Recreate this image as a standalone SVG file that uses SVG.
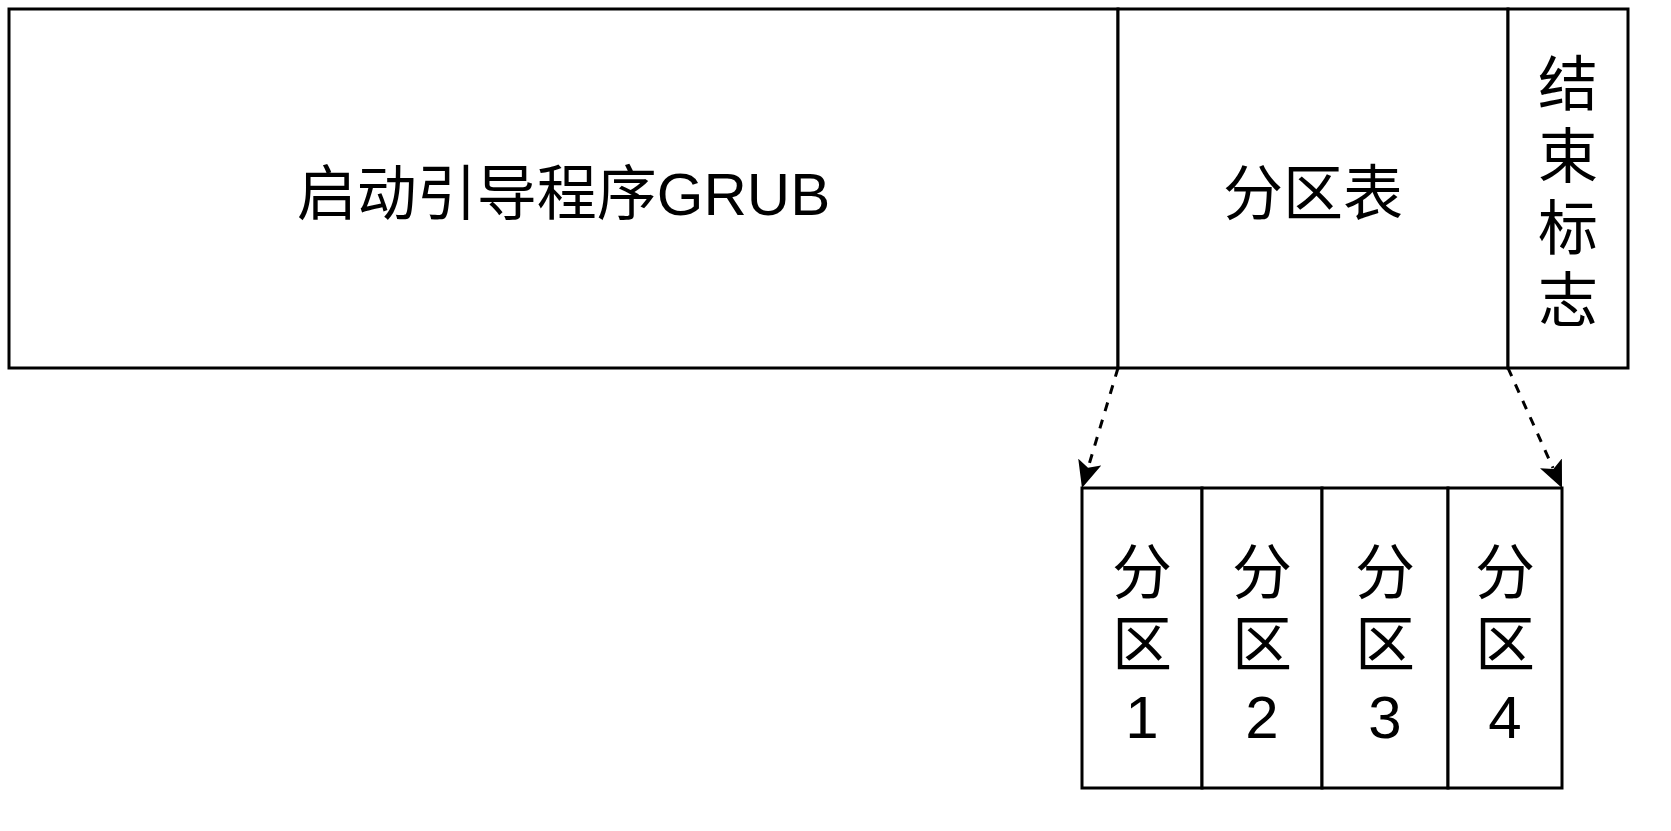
<svg xmlns="http://www.w3.org/2000/svg" width="1671" height="831" viewBox="0 0 1671 831">
<style>
.box{fill:#ffffff;stroke:#000000;stroke-width:3}
.t{font-family:"Liberation Sans","Noto Sans CJK SC",sans-serif;font-size:60px;fill:#000000;text-anchor:middle}
.edge{fill:none;stroke:#000000;stroke-width:3;stroke-dasharray:9 9}
</style>
<defs>
<marker id="arrow" markerUnits="userSpaceOnUse" viewBox="0 0 27 24" refX="5" refY="12" markerWidth="27" markerHeight="24" orient="auto">
<path d="M27,12 L0,0 L6,12 L0,24 Z" fill="#000000"/>
</marker>
</defs>
<rect width="1671" height="831" fill="#ffffff"/>
<g id="grub">
<rect class="box" x="9" y="9" width="1109" height="359"/>
<text class="t" x="563.5" y="215">启动引导程序GRUB</text>
</g>
<g id="partition-table">
<rect class="box" x="1118" y="9" width="390" height="359"/>
<text class="t" x="1313" y="215">分区表</text>
</g>
<g id="end-mark">
<rect class="box" x="1508" y="9" width="120" height="359"/>
<text class="t" x="1568"><tspan x="1568" y="106">结</tspan><tspan x="1568" y="178">束</tspan><tspan x="1568" y="250">标</tspan><tspan x="1568" y="322">志</tspan></text>
</g>
<g id="part1">
<rect class="box" x="1082" y="488" width="120" height="300"/>
<text class="t"><tspan x="1142" y="594">分</tspan><tspan x="1142" y="666">区</tspan><tspan x="1142" y="738">1</tspan></text>
</g>
<g id="part2">
<rect class="box" x="1202" y="488" width="120" height="300"/>
<text class="t"><tspan x="1262" y="594">分</tspan><tspan x="1262" y="666">区</tspan><tspan x="1262" y="738">2</tspan></text>
</g>
<g id="part3">
<rect class="box" x="1322" y="488" width="126" height="300"/>
<text class="t"><tspan x="1385" y="594">分</tspan><tspan x="1385" y="666">区</tspan><tspan x="1385" y="738">3</tspan></text>
</g>
<g id="part4">
<rect class="box" x="1448" y="488" width="114" height="300"/>
<text class="t"><tspan x="1505" y="594">分</tspan><tspan x="1505" y="666">区</tspan><tspan x="1505" y="738">4</tspan></text>
</g>
<g id="connectors">
<path class="edge" d="M1118,368 L1088.3,466.9" marker-end="url(#arrow)"/>
<path class="edge" d="M1508,368 L1553,468" marker-end="url(#arrow)"/>
</g>
</svg>
